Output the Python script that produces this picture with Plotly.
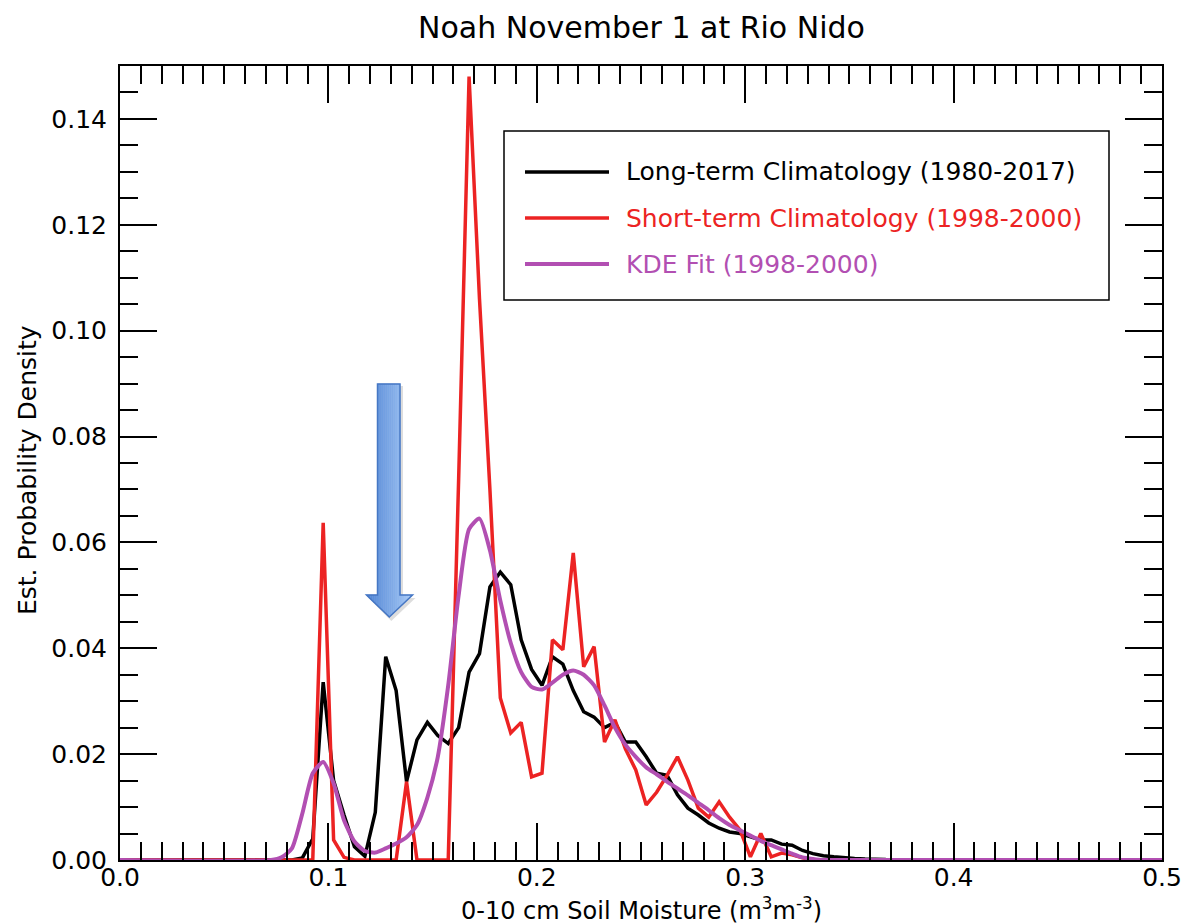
import plotly.graph_objects as go

# bin centres (soil moisture, m3/m3)
bins = [0.0775, 0.0825, 0.0875, 0.0925, 0.0975, 0.1025, 0.1075, 0.1125, 0.1175, 0.1225,
        0.1275, 0.1325, 0.1375, 0.1425, 0.1475, 0.1525, 0.1575, 0.1625, 0.1675, 0.1725,
        0.1775, 0.1825, 0.1875, 0.1925, 0.1975, 0.2025, 0.2075, 0.2125, 0.2175, 0.2225,
        0.2275, 0.2325, 0.2375, 0.2425, 0.2475, 0.2525, 0.2575, 0.2625, 0.2675, 0.2725,
        0.2775, 0.2825, 0.2875, 0.2925, 0.2975, 0.3025, 0.3075, 0.3125, 0.3175, 0.3225,
        0.3275, 0.3325, 0.3375, 0.3425, 0.3475, 0.3525, 0.3575, 0.3625, 0.3675]

long_term = [0, 0, 0.0004, 0.004, 0.0336, 0.015, 0.0085, 0.0025, 0.0007, 0.009,
             0.0384, 0.032, 0.0148, 0.0227, 0.026, 0.0235, 0.022, 0.025, 0.0355, 0.039,
             0.0516, 0.0544, 0.052, 0.0416, 0.036, 0.033, 0.0384, 0.037, 0.032, 0.028,
             0.027, 0.025, 0.026, 0.0223, 0.0223, 0.0195, 0.0164, 0.016, 0.0123, 0.0098,
             0.0085, 0.007, 0.006, 0.0053, 0.005, 0.0044, 0.0038, 0.0038, 0.003, 0.0028,
             0.0018, 0.0012, 0.0008, 0.0006, 0.0004, 0.0003, 0.0002, 0.0002, 0.0001]

short_term = [0, 0, 0, 0, 0.0637, 0.0038, 0.0005, 0, 0, 0,
              0, 0, 0.0148, 0, 0, 0, 0, 0.072, 0.148, 0.106,
              0.070, 0.0306, 0.024, 0.026, 0.0157, 0.0164, 0.0416, 0.0397, 0.058, 0.0365,
              0.0403, 0.0223, 0.0265, 0.021, 0.017, 0.0104, 0.0128, 0.016, 0.0195, 0.0151,
              0.0098, 0.0081, 0.011, 0.0081, 0.0057, 0.0006, 0.005, 0.0006, 0.0013, 0.001,
              0.0004, 0, 0, 0, 0, 0, 0, 0, 0]

kde_fit = [0.0005, 0.0022, 0.0088, 0.0164, 0.0185, 0.0145, 0.0075, 0.0035, 0.0017, 0.0014,
           0.0022, 0.0031, 0.0043, 0.0066, 0.0118, 0.0195, 0.033, 0.050, 0.0625, 0.0645,
           0.0585, 0.049, 0.041, 0.0355, 0.0327, 0.0322, 0.0335, 0.035, 0.0358, 0.035,
           0.033, 0.0292, 0.025, 0.0218, 0.0195, 0.0175, 0.0162, 0.0148, 0.0135, 0.0122,
           0.0108, 0.0094, 0.0079, 0.0066, 0.0056, 0.0046, 0.0036, 0.0028, 0.002, 0.0012,
           0.0005, 0.0002, 0, 0, 0, 0, 0, 0, 0]

# range ends (density is zero there)
x_start, x_end = 0.0, 0.5
x_kde_start = 0.0725

names = ["Long-term Climatology (1980-2017)",
         "Short-term Climatology (1998-2000)",
         "KDE Fit (1998-2000)"]
colors = ["#000000", "#ec2323", "#b24fb2"]

FONT = "DejaVu Sans"
fig = go.Figure()

fig.add_trace(go.Scatter(x=[x_start] + bins + [x_end], y=[0] + long_term + [0],
                         mode="lines", name=names[0],
                         line=dict(color=colors[0], width=3.5)))
fig.add_trace(go.Scatter(x=[x_start] + bins + [x_end], y=[0] + short_term + [0],
                         mode="lines", name=names[1],
                         line=dict(color=colors[1], width=3.5)))
fig.add_trace(go.Scatter(x=[x_start, x_kde_start] + bins + [x_end], y=[0, 0] + kde_fit + [0],
                         mode="lines", name=names[2],
                         line=dict(color=colors[2], width=4, shape="spline", smoothing=0.6)))

# plot area in pixels
W, H = 1185, 924
L, R, T, B = 120, 1162, 66, 860
def px(xp):
    return (xp - L) / (R - L)
def py(yp):
    return (B - yp) / (B - T)

shapes = []
annotations = []
# manual legend box
shapes.append(dict(type="rect", xref="paper", yref="paper",
                   x0=px(504), x1=px(1109), y0=py(300), y1=py(131),
                   line=dict(color="black", width=1.5), fillcolor="white", layer="above"))
rows = [172, 218, 264]
for i in range(3):
    shapes.append(dict(type="line", xref="paper", yref="paper",
                       x0=px(525), x1=px(609), y0=py(rows[i]), y1=py(rows[i]),
                       line=dict(color=colors[i], width=4 if i == 2 else 3.5), layer="above"))
    annotations.append(dict(xref="paper", yref="paper", x=px(624), y=py(rows[i]),
                            xanchor="left", yanchor="middle", showarrow=False,
                            text=names[i], font=dict(family=FONT, size=25, color=colors[i])))

# axis titles
annotations.append(dict(xref="paper", yref="paper", x=px(641), y=py(909),
                        xanchor="center", yanchor="middle", showarrow=False,
                        text="0-10 cm Soil Moisture (m<sup>3</sup>m<sup>-3</sup>)",
                        font=dict(family=FONT, size=24, color="black")))
annotations.append(dict(xref="paper", yref="paper", x=px(28), y=py(470),
                        xanchor="center", yanchor="middle", showarrow=False, textangle=-90,
                        text="Est. Probability Density",
                        font=dict(family=FONT, size=25, color="black")))

# blue down arrow (data coordinates), gradient from left to right
def dx(xp):
    return (xp - L) / (R - L) * 0.5
def dy(yp):
    return (B - yp) / (B - T) * 0.15

sa, sb = 377.5, 400.0       # shaft left/right (px)
ha, hb = 366.5, 412.5       # head left/right
tip_x, top_y, base_y, tip_y = 389.3, 384.0, 595.0, 617.0

def bottom_at(xp):
    if xp <= tip_x:
        return base_y + (tip_y - base_y) * (xp - ha) / (tip_x - ha)
    return base_y + (tip_y - base_y) * (hb - xp) / (hb - tip_x)

def lerp_col(c1, c2, f):
    a = [int(c1[i:i + 2], 16) for i in (1, 3, 5)]
    b = [int(c2[i:i + 2], 16) for i in (1, 3, 5)]
    return "rgb({},{},{})".format(*[round(a[k] + (b[k] - a[k]) * f) for k in range(3)])

shadow = ("M {a},{t} L {b},{t} L {b},{h} L {c},{h} L {m},{p} L {d},{h} L {a},{h} Z"
          .format(a=dx(sa + 2), b=dx(sb + 3), c=dx(hb + 3), d=dx(ha + 2), m=dx(tip_x + 2),
                  t=dy(top_y + 2), h=dy(base_y + 3), p=dy(tip_y + 4)))
shapes.append(dict(type="path", path=shadow, xref="x", yref="y",
                   fillcolor="rgba(120,120,120,0.25)", line=dict(width=0), layer="above"))

n_strips = 24
for k in range(n_strips):
    x0 = ha + (hb - ha) * k / n_strips
    x1 = ha + (hb - ha) * (k + 1) / n_strips
    inside_shaft = (x0 >= sa - 0.01) and (x1 <= sb + 0.01)
    ytop = top_y if inside_shaft else base_y
    pts = [(x0, ytop), (x1, ytop)]
    if x0 < tip_x < x1:
        pts += [(x1, bottom_at(x1)), (tip_x, tip_y), (x0, bottom_at(x0))]
    else:
        pts += [(x1, bottom_at(x1)), (x0, bottom_at(x0))]
    f = (0.5 * (x0 + x1) - ha) / (hb - ha)
    col = lerp_col("#4f84d4", "#a9cbf8", f)
    if not inside_shaft and (x1 > sa and x0 < sb):
        cx0, cx1 = max(x0, sa), min(x1, sb)
        piece = "M {},{} L {},{} L {},{} L {},{} Z".format(dx(cx0), dy(top_y), dx(cx1), dy(top_y),
                                                        dx(cx1), dy(base_y), dx(cx0), dy(base_y))
        shapes.append(dict(type="path", path=piece, xref="x", yref="y",
                           fillcolor=col, line=dict(width=0.6, color=col), layer="above"))
    path = "M " + " L ".join("{},{}".format(dx(a), dy(b)) for a, b in pts) + " Z"
    shapes.append(dict(type="path", path=path, xref="x", yref="y",
                       fillcolor=col, line=dict(width=0.6, color=col), layer="above"))

outline = ("M {a},{t} L {b},{t} L {b},{h} L {c},{h} L {m},{p} L {d},{h} L {a},{h} Z"
           .format(a=dx(sa), b=dx(sb), c=dx(hb), d=dx(ha), m=dx(tip_x),
                   t=dy(top_y), h=dy(base_y), p=dy(tip_y)))
shapes.append(dict(type="path", path=outline, xref="x", yref="y",
                   fillcolor="rgba(0,0,0,0)", line=dict(color="#4677c4", width=1.5), layer="above"))

fig.update_layout(
    width=W, height=H,
    margin=dict(l=L, r=W - R, t=T, b=H - B, autoexpand=False),
    paper_bgcolor="white", plot_bgcolor="white",
    showlegend=False,
    font=dict(family=FONT, size=25, color="black"),
    title=dict(text="Noah November 1 at Rio Nido", x=641.5 / W,
               xanchor="center", y=1 - 27 / H, yanchor="middle",
               font=dict(family=FONT, size=30, color="black")),
    shapes=shapes, annotations=annotations,
)
fig.update_xaxes(range=[0, 0.5], dtick=0.1, tick0=0, tickformat=".1f",
                 showgrid=False, zeroline=False, automargin=False,
                 showline=True, linecolor="black", linewidth=2, mirror="ticks",
                 ticks="inside", ticklen=37, tickwidth=2, tickcolor="black",
                 ticklabelstandoff=-6,
                 minor=dict(dtick=0.01, tick0=0, ticks="inside", ticklen=18,
                            tickwidth=2, tickcolor="black", showgrid=False),
                 tickfont=dict(family=FONT, size=25))
fig.update_yaxes(range=[0, 0.15], dtick=0.02, tick0=0, tickformat=".2f",
                 showgrid=False, zeroline=False, automargin=False,
                 showline=True, linecolor="black", linewidth=2, mirror="ticks",
                 ticks="inside", ticklen=37, tickwidth=2, tickcolor="black",
                 ticklabelstandoff=6,
                 minor=dict(dtick=0.005, tick0=0, ticks="inside", ticklen=18,
                            tickwidth=2, tickcolor="black", showgrid=False),
                 tickfont=dict(family=FONT, size=25))

fig.write_html("out.html")
